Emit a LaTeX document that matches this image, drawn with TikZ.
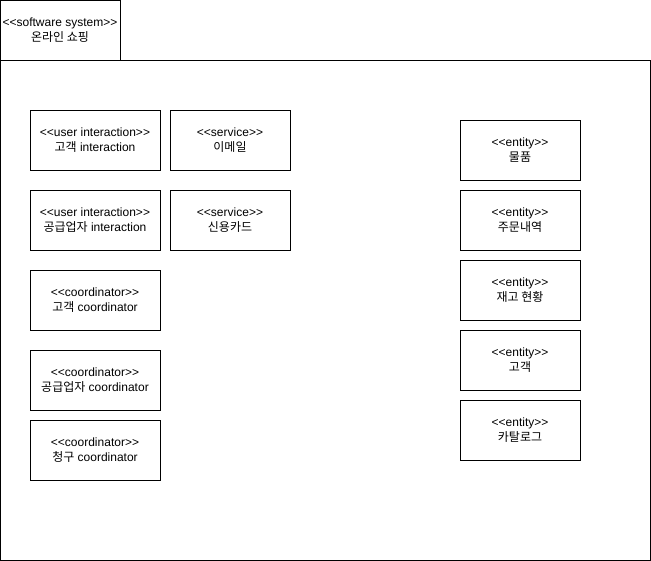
\documentclass[tikz,border=0pt]{standalone}
\usepackage{fontspec}
\setmainfont{Liberation Sans}
\newfontfamily\krfont{Noto Sans CJK KR}
\newcommand{\ko}[1]{{\krfont #1}}
\usepackage{tikz}

\begin{document}
\begin{tikzpicture}[x=0.75pt,y=-0.75pt,
		box/.style={draw,line width=0.75pt,minimum width=90pt,minimum height=45pt,align=center,font=\fontsize{9}{11.25}\selectfont,inner sep=0pt},
		widebox/.style={box,minimum width=97.5pt}]
		\useasboundingbox (0,0) rectangle (651,561);
		% frame of the system
		\node[box,minimum width=90pt,minimum height=45pt] (tab) at (60,30) {<{}<software system>{}>\\\ko{온라인 쇼핑}};
		\node[draw,line width=0.75pt,minimum width=487.5pt,minimum height=375pt,inner sep=0pt] (system) at (325,310) {};
		% left column
		\node[widebox] (custui) at (95,140) {<{}<user interaction>{}>\\\ko{고객} interaction};
		\node[widebox] (suppui) at (95,220) {<{}<user interaction>{}>\\\ko{공급업자} interaction};
		\node[widebox] (custco) at (95,300) {<{}<coordinator>{}>\\\ko{고객} coordinator};
		\node[widebox] (suppco) at (95,380) {<{}<coordinator>{}>\\\ko{공급업자} coordinator};
		\node[widebox] (billco) at (95,450) {<{}<coordinator>{}>\\\ko{청구} coordinator};
		% services
		\node[box] (email) at (230,140) {<{}<service>{}>\\\ko{이메일}};
		\node[box] (card) at (230,220) {<{}<service>{}>\\\ko{신용카드}};
		% entities
		\node[box] (item) at (520,150) {<{}<entity>{}>\\\ko{물품}};
		\node[box] (order) at (520,220) {<{}<entity>{}>\\\ko{주문내역}};
		\node[box] (stock) at (520,290) {<{}<entity>{}>\\\ko{재고 현황}};
		\node[box] (customer) at (520,360) {<{}<entity>{}>\\\ko{고객}};
		\node[box] (catalog) at (520,430) {<{}<entity>{}>\\\ko{카탈로그}};
	\end{tikzpicture}
\end{document}
